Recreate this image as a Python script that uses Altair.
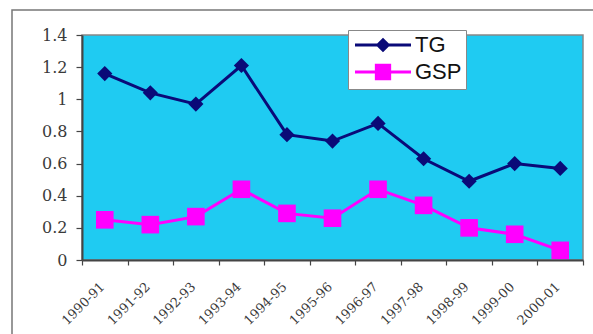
import altair as alt
import pandas as pd

years = ["1990-91", "1991-92", "1992-93", "1993-94", "1994-95", "1995-96",
         "1996-97", "1997-98", "1998-99", "1999-00", "2000-01"]
tg = [1.16, 1.04, 0.97, 1.21, 0.78, 0.74, 0.85, 0.63, 0.49, 0.60, 0.57]
gsp = [0.25, 0.22, 0.27, 0.44, 0.29, 0.26, 0.44, 0.34, 0.20, 0.16, 0.06]
series = ["TG", "GSP"]
colors = ["#0A0A78", "#FF00FF"]
markers = ["diamond", "square"]
marker_sizes = [230, 310]
y_ticks = [0, 0.2, 0.4, 0.6, 0.8, 1.0, 1.2, 1.4]

# legend symbols: a line segment with the series marker (nested outlines so it looks solid)
legend_paths = [
    "M-4,0L4,0M-0.75,0L0,-0.75L0.75,0L0,0.75ZM-0.35,0L0,-0.35L0.35,0L0,0.35Z"
    "M-0.1,0L0,-0.1L0.1,0L0,0.1Z",
    "M-4,0L4,0M-0.95,-0.95L0.95,-0.95L0.95,0.95L-0.95,0.95Z"
    "M-0.55,-0.55L0.55,-0.55L0.55,0.55L-0.55,0.55Z"
    "M-0.2,-0.2L0.2,-0.2L0.2,0.2L-0.2,0.2Z",
]

rows = [{"year": y, "series": "TG", "value": v} for y, v in zip(years, tg)]
rows += [{"year": y, "series": "GSP", "value": v} for y, v in zip(years, gsp)]
df = pd.DataFrame(rows)

W, H = 501, 225
PL, PT = 82, 35
SERIF = "DejaVu Serif"

x = alt.X("year:N", sort=years,
          scale=alt.Scale(paddingInner=0, paddingOuter=0),
          axis=alt.Axis(title=None, labelAngle=-45, tickBand="extent",
                        labelAlign="right", labelBaseline="top",
                        labelFont=SERIF, labelFontSize=13, labelOffset=-7,
                        labelColor="#3a3a3a", labelPadding=15, tickSize=5,
                        tickColor="#444444", domainColor="#444444",
                        domainWidth=2, tickWidth=1.2))
y = alt.Y("value:Q", scale=alt.Scale(domain=[0, 1.4], nice=False, zero=True),
          axis=alt.Axis(title=None, values=y_ticks, format=".1~f", grid=False,
                        labelFont=SERIF, labelFontSize=16,
                        labelColor="#3a3a3a", labelPadding=9, tickSize=6,
                        tickColor="#444444", domainColor="#444444",
                        domainWidth=2, tickWidth=1.2))

frame = alt.Chart(pd.DataFrame({"a": [0]})).mark_rect(
    fill=None, stroke="#777777", strokeWidth=1.5, clip=False
).encode(
    x=alt.value(-70), x2=alt.value(W + 40),
    y=alt.value(-25), y2=alt.value(H + 100)
)

layers = [frame]
for s, c in zip(series, colors):
    layers.append(
        alt.Chart(df).transform_filter(alt.datum.series == s)
        .mark_line(strokeWidth=3, color=c).encode(x=x, y=y)
    )
for s, c, m, sz in zip(series, colors, markers, marker_sizes):
    layers.append(
        alt.Chart(df).transform_filter(alt.datum.series == s)
        .mark_point(filled=True, shape=m, size=sz, color=c, opacity=1)
        .encode(x=x, y=y)
    )

leg = alt.Legend(
    title=None, orient="none", legendX=266, legendY=-5,
    symbolSize=196, symbolStrokeWidth=3, symbolOpacity=1,
    rowPadding=2, padding=4, symbolOffset=20, labelOffset=21,
    labelFont="Liberation Sans", labelFontSize=22, labelColor="#111111",
    fillColor="white", strokeColor="#888888",
)

legend_layer = alt.Chart(df).mark_point(
    filled=False, opacity=0, size=196, strokeWidth=3
).encode(
    x=x, y=y,
    color=alt.Color("series:N", scale=alt.Scale(domain=series, range=colors), legend=leg),
    shape=alt.Shape("series:N", scale=alt.Scale(domain=series, range=legend_paths), legend=leg),
)
layers.append(legend_layer)

chart = alt.layer(*layers).properties(
    width=W, height=H,
    autosize=alt.AutoSizeParams(type="none"),
    padding={"left": PL, "top": PT, "right": 593 - PL - W, "bottom": 334 - PT - H},
    background="white",
).configure_view(
    fill="#1FCBF2", stroke="#888888", strokeWidth=1.5
)

chart.save("out.html", embed_options={"renderer": "svg", "actions": False})
